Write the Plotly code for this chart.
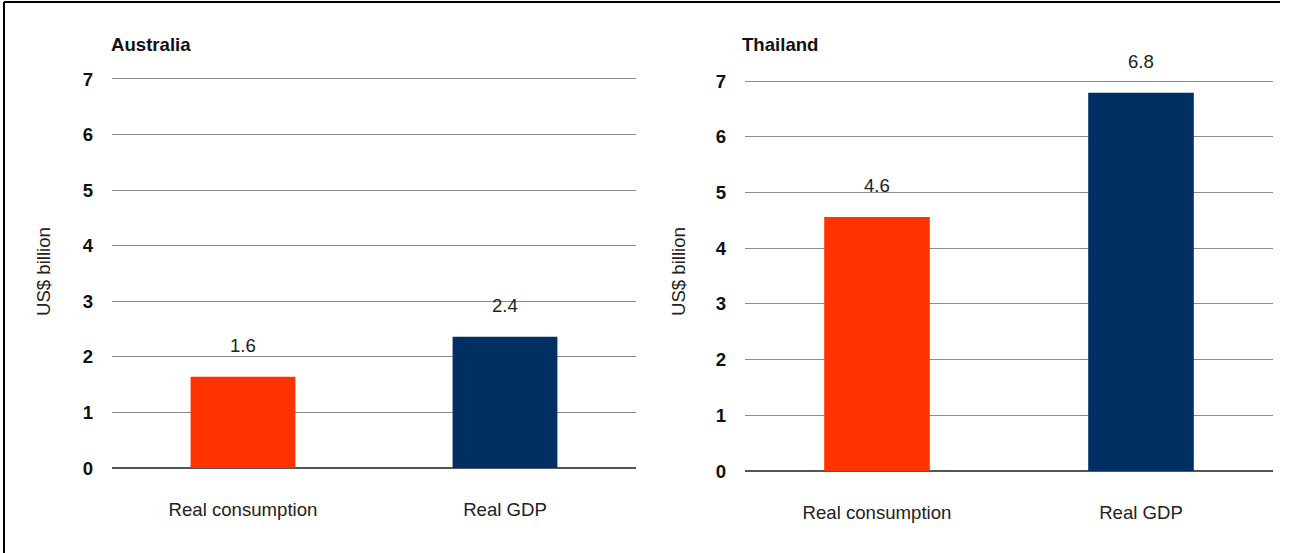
import plotly.graph_objects as go
from plotly.subplots import make_subplots

categories = ["Real consumption", "Real GDP"]
countries = ["Australia", "Thailand"]
australia_values = [1.64, 2.36]
thailand_values = [4.56, 6.79]
bar_colors = ["#FF3300", "#003063"]
y_ticks = [0, 1, 2, 3, 4, 5, 6, 7]

W, H = 1289, 553
FONT = "Liberation Sans, Arial, sans-serif"
FS = 18.6
YMAX = 7.04

fig = make_subplots(rows=1, cols=2)

series = [australia_values, thailand_values]
for i, vals in enumerate(series):
    fig.add_trace(go.Bar(x=categories, y=vals, marker_color=bar_colors,
                         marker_line_width=0, width=0.4, showlegend=False,
                         hoverinfo="skip"), row=1, col=i + 1)
    for c, v in zip(categories, vals):
        fig.add_annotation(x=c, y=v, text=f"{v:.1f}", showarrow=False,
                           yshift=31, font=dict(family=FONT, size=FS, color="#222"),
                           xref=f"x{'' if i == 0 else 2}", yref=f"y{'' if i == 0 else 2}")

# domains (pixel based): zero line and 7-line pixel rows
xdoms = [(112 / W, 636 / W), (745 / W, 1273 / W)]
rows = [(468, 79), (471, 81)]
ydoms = []
for y0, y7 in rows:
    top = y0 - (y0 - y7) * YMAX / 7
    ydoms.append(((H - y0) / H, (H - top) / H))

for i in range(2):
    xa = "xaxis" if i == 0 else "xaxis2"
    ya = "yaxis" if i == 0 else "yaxis2"
    fig.layout[xa].update(domain=xdoms[i], showgrid=False, zeroline=False,
                          showline=False, ticks="", ticklabelstandoff=28,
                          automargin=False,
                          tickfont=dict(family=FONT, size=FS, color="#222"))
    fig.layout[ya].update(domain=ydoms[i], range=[0, YMAX], tickvals=y_ticks,
                          showgrid=True, gridcolor="#8a8a8a", gridwidth=1,
                          zeroline=True, zerolinecolor="#555", zerolinewidth=2,
                          showline=False, ticks="", ticklabelstandoff=18,
                          automargin=False,
                          tickfont=dict(family=FONT, size=FS, color="#111", weight="bold"))

# panel titles
fig.add_annotation(x=109 / W, y=(H - 45) / H, xref="paper", yref="paper", text="<b>Australia</b>",
                   showarrow=False, xanchor="left", yanchor="middle",
                   font=dict(family=FONT, size=FS, color="#111"))
fig.add_annotation(x=740 / W, y=(H - 45) / H, xref="paper", yref="paper", text="<b>Thailand</b>",
                   showarrow=False, xanchor="left", yanchor="middle",
                   font=dict(family=FONT, size=FS, color="#111"))

# y axis titles
for xp, yp in [(43, 272), (678, 272)]:
    fig.add_annotation(x=xp / W, y=(H - yp) / H, xref="paper", yref="paper", text="US$ billion",
                       showarrow=False, textangle=-90, xanchor="center", yanchor="middle",
                       font=dict(family=FONT, size=FS, color="#222"))

# frame lines (top and left)
fig.add_shape(type="line", xref="paper", yref="paper", x0=4 / W, x1=1280 / W,
              y0=(H - 2) / H, y1=(H - 2) / H, line=dict(color="black", width=2))
fig.add_shape(type="line", xref="paper", yref="paper", x0=4 / W, x1=4 / W,
              y0=0, y1=(H - 2) / H, line=dict(color="black", width=2))

fig.update_layout(width=W, height=H, margin=dict(l=0, r=0, t=0, b=0, pad=0, autoexpand=False),
                  plot_bgcolor="white", paper_bgcolor="white", bargap=0.6)

fig.write_html("out.html", config={"displayModeBar": False},
               post_script="document.body.style.margin='0';")
